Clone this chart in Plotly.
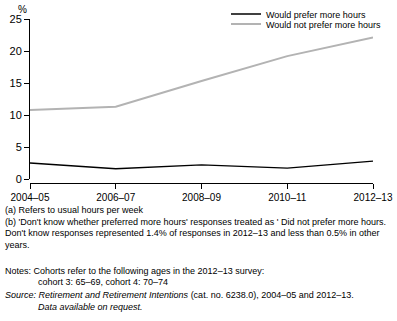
import plotly.graph_objects as go

years = ["2004–05", "2006–07", "2008–09", "2010–11", "2012–13"]
prefer = [2.5, 1.6, 2.2, 1.7, 2.8]
not_prefer = [10.8, 11.3, 15.3, 19.2, 22.1]
y_ticks = [0, 5, 10, 15, 20, 25]

FONT = "Liberation Sans, Arial"

fig = go.Figure()
fig.add_trace(go.Scatter(x=years, y=prefer, mode="lines", name="Would prefer more hours",
                         line=dict(color="black", width=1.3), legend="legend"))
fig.add_trace(go.Scatter(x=years, y=not_prefer, mode="lines", name="Would not prefer more hours",
                         line=dict(color="#b3b3b3", width=2), legend="legend2"))

W, H = 397, 321
L, R, T, B = 30, 24, 19, 138
pw = W - L - R
ph = H - T - B

def px_x(x):
    return (x - L) / pw

def px_y(y):
    return (H - B - y) / ph

leg_common = dict(xanchor="left", yanchor="middle",
                  bgcolor="rgba(0,0,0,0)", itemwidth=30, font=dict(size=9))

fig.update_layout(
    width=W, height=H,
    margin=dict(l=L, r=R, t=T, b=B, autoexpand=False),
    paper_bgcolor="white", plot_bgcolor="white",
    font=dict(family=FONT, size=10, color="black"),
    showlegend=True,
    legend=dict(x=px_x(226), y=px_y(14), **leg_common),
    legend2=dict(x=px_x(226), y=px_y(24), **leg_common),
    xaxis=dict(type="category", showline=True, linecolor="black", linewidth=1,
               ticks="outside", ticklen=5, tickcolor="black", showgrid=False,
               zeroline=False, anchor="free", position=0, tickangle=0,
               tickfont=dict(size=10), range=[0, 4]),
    yaxis=dict(range=[0, 25], tickvals=y_ticks, showline=True, linecolor="black",
               linewidth=1, ticks="outside", ticklen=5, tickcolor="black",
               showgrid=False, zeroline=False, domain=[4 / ph, 1],
               tickfont=dict(size=11)),
)

fig.add_annotation(text="%", x=0, xref="paper", xanchor="center", xshift=-8,
                   y=1, yref="paper", yanchor="bottom", yshift=2,
                   showarrow=False, font=dict(size=10))

notes = [
    (210, 0, "(a) Refers to usual hours per week"),
    (221.5, 0, "(b) 'Don't know whether preferred more hours' responses treated as ' Did not prefer more hours."),
    (233, 0, "Don't know responses represented 1.4% of responses in 2012–13 and less than 0.5% in other"),
    (244.5, 0, "years."),
    (271, 0, "Notes: Cohorts refer to the following ages in the 2012–13 survey:"),
    (282, 33, "cohort 3: 65–69, cohort 4: 70–74"),
    (295, 0, "<i>Source:</i> <i>Retirement and Retirement Intentions</i> (cat. no. 6238.0), 2004–05 and 2012–13."),
    (307, 33, "<i>Data available on request.</i>"),
]
for ypx, xpx, txt in notes:
    fig.add_annotation(text=txt, xref="paper", yref="paper",
                       x=px_x(xpx + 3), xanchor="left",
                       y=px_y(ypx), yanchor="middle",
                       showarrow=False, font=dict(size=9), align="left")

fig.write_html("out.html")
